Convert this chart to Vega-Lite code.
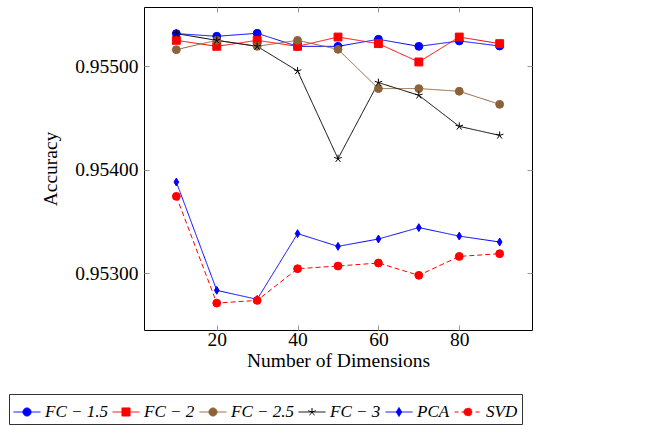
{
  "$schema": "https://vega.github.io/schema/vega-lite/v6.json",
  "width": 388,
  "height": 323,
  "autosize": {"type": "none"},
  "padding": {"left": 144, "top": 7, "right": 127, "bottom": 96},
  "background": "white",
  "config": {
    "font": "Liberation Serif",
    "view": {"stroke": "black", "strokeWidth": 1},
    "axis": {
      "labelFont": "Liberation Serif",
      "titleFont": "Liberation Serif",
      "labelFontSize": 19.5,
      "titleFontSize": 19.5,
      "labelColor": "black",
      "titleColor": "black",
      "titleFontWeight": "normal",
      "grid": false,
      "domain": false,
      "tickColor": "#999999",
      "tickSize": -5,
      "tickWidth": 1
    }
  },
  "data": {
    "values": [
      {"dim": 10, "series": "FC − 1.5", "acc": 0.955313},
      {"dim": 20, "series": "FC − 1.5", "acc": 0.955287},
      {"dim": 30, "series": "FC − 1.5", "acc": 0.955316},
      {"dim": 40, "series": "FC − 1.5", "acc": 0.955190},
      {"dim": 50, "series": "FC − 1.5", "acc": 0.955190},
      {"dim": 60, "series": "FC − 1.5", "acc": 0.955258},
      {"dim": 70, "series": "FC − 1.5", "acc": 0.955190},
      {"dim": 80, "series": "FC − 1.5", "acc": 0.955242},
      {"dim": 90, "series": "FC − 1.5", "acc": 0.955193},
      {"dim": 10, "series": "FC − 2", "acc": 0.955248},
      {"dim": 20, "series": "FC − 2", "acc": 0.955190},
      {"dim": 30, "series": "FC − 2", "acc": 0.955248},
      {"dim": 40, "series": "FC − 2", "acc": 0.955190},
      {"dim": 50, "series": "FC − 2", "acc": 0.955280},
      {"dim": 60, "series": "FC − 2", "acc": 0.955216},
      {"dim": 70, "series": "FC − 2", "acc": 0.955039},
      {"dim": 80, "series": "FC − 2", "acc": 0.955280},
      {"dim": 90, "series": "FC − 2", "acc": 0.955216},
      {"dim": 10, "series": "FC − 2.5", "acc": 0.955158},
      {"dim": 20, "series": "FC − 2.5", "acc": 0.955248},
      {"dim": 30, "series": "FC − 2.5", "acc": 0.955190},
      {"dim": 40, "series": "FC − 2.5", "acc": 0.955248},
      {"dim": 50, "series": "FC − 2.5", "acc": 0.955161},
      {"dim": 60, "series": "FC − 2.5", "acc": 0.954782},
      {"dim": 70, "series": "FC − 2.5", "acc": 0.954782},
      {"dim": 80, "series": "FC − 2.5", "acc": 0.954756},
      {"dim": 90, "series": "FC − 2.5", "acc": 0.954630},
      {"dim": 10, "series": "FC − 3", "acc": 0.955313},
      {"dim": 20, "series": "FC − 3", "acc": 0.955248},
      {"dim": 30, "series": "FC − 3", "acc": 0.955190},
      {"dim": 40, "series": "FC − 3", "acc": 0.954952},
      {"dim": 50, "series": "FC − 3", "acc": 0.954105},
      {"dim": 60, "series": "FC − 3", "acc": 0.954840},
      {"dim": 70, "series": "FC − 3", "acc": 0.954717},
      {"dim": 80, "series": "FC − 3", "acc": 0.954417},
      {"dim": 90, "series": "FC − 3", "acc": 0.954330},
      {"dim": 10, "series": "PCA", "acc": 0.953879},
      {"dim": 20, "series": "PCA", "acc": 0.952833},
      {"dim": 30, "series": "PCA", "acc": 0.952746},
      {"dim": 40, "series": "PCA", "acc": 0.953381},
      {"dim": 50, "series": "PCA", "acc": 0.953258},
      {"dim": 60, "series": "PCA", "acc": 0.953329},
      {"dim": 70, "series": "PCA", "acc": 0.953439},
      {"dim": 80, "series": "PCA", "acc": 0.953357},
      {"dim": 90, "series": "PCA", "acc": 0.953300},
      {"dim": 10, "series": "SVD", "acc": 0.953741},
      {"dim": 20, "series": "SVD", "acc": 0.952710},
      {"dim": 30, "series": "SVD", "acc": 0.952736},
      {"dim": 40, "series": "SVD", "acc": 0.953042},
      {"dim": 50, "series": "SVD", "acc": 0.953068},
      {"dim": 60, "series": "SVD", "acc": 0.953097},
      {"dim": 70, "series": "SVD", "acc": 0.952978},
      {"dim": 80, "series": "SVD", "acc": 0.953161},
      {"dim": 90, "series": "SVD", "acc": 0.953187}
    ]
  },
  "resolve": {
    "axis": {"x": "independent", "y": "independent"},
    "scale": {"color": "independent", "shape": "independent", "stroke": "independent", "strokeDash": "independent"}
  },
  "layer": [
    {
      "mark": {"type": "line", "strokeWidth": 1},
      "encoding": {
        "x": {
          "field": "dim", "type": "quantitative",
          "scale": {"domain": [2, 98], "nice": false, "zero": false},
          "axis": {"orient": "bottom", "values": [20, 40, 60, 80], "title": "Number of Dimensions", "labelPadding": 5, "titlePadding": 3}
        },
        "y": {
          "field": "acc", "type": "quantitative",
          "scale": {"domain": [0.95245, 0.95557], "nice": false, "zero": false},
          "axis": {"orient": "left", "values": [0.953, 0.954, 0.955], "format": ".5f", "title": "Accuracy", "labelPadding": 11, "titlePadding": 14}
        },
        "color": {
          "field": "series", "type": "nominal",
          "scale": {
            "domain": ["FC − 1.5", "FC − 2", "FC − 2.5", "FC − 3", "PCA", "SVD"],
            "range": ["#0000FF", "#FF0000", "#8C6239", "#000000", "#0000FF", "#FF0000"]
          },
          "legend": null
        },
        "strokeDash": {
          "field": "series", "type": "nominal",
          "scale": {
            "domain": ["FC − 1.5", "FC − 2", "FC − 2.5", "FC − 3", "PCA", "SVD"],
            "range": [[1, 0], [1, 0], [1, 0], [1, 0], [1, 0], [5, 3]]
          },
          "legend": null
        }
      }
    },
    {
      "mark": {"type": "point", "filled": true, "opacity": 1, "strokeWidth": 1},
      "encoding": {
        "x": {
          "field": "dim", "type": "quantitative",
          "axis": {"orient": "top", "values": [20, 40, 60, 80], "labels": false, "title": null}
        },
        "y": {
          "field": "acc", "type": "quantitative",
          "axis": {"orient": "right", "values": [0.953, 0.954, 0.955], "labels": false, "title": null}
        },
        "color": {
          "field": "series", "type": "nominal",
          "scale": {
            "domain": ["FC − 1.5", "FC − 2", "FC − 2.5", "FC − 3", "PCA", "SVD"],
            "range": ["#0000FF", "#FF0000", "#8C6239", "#000000", "#0000FF", "#FF0000"]
          },
          "legend": null
        },
        "stroke": {
          "field": "series", "type": "nominal",
          "scale": {
            "domain": ["FC − 1.5", "FC − 2", "FC − 2.5", "FC − 3", "PCA", "SVD"],
            "range": ["#0000FF", "#FF0000", "#8C6239", "#000000", "#0000FF", "#FF0000"]
          },
          "legend": null
        },
        "shape": {
          "field": "series", "type": "nominal",
          "scale": {
            "domain": ["FC − 1.5", "FC − 2", "FC − 2.5", "FC − 3", "PCA", "SVD"],
            "range": ["circle", "square", "circle", "M0,0L0,-1M0,0L0.95,-0.31M0,0L0.59,0.81M0,0L-0.59,0.81M0,0L-0.95,-0.31", "M-0.6,0L0,-1L0.6,0L0,1Z", "circle"]
          },
          "legend": null
        },
        "size": {"value": 62}
      }
    },
    {
      "mark": {"type": "point", "filled": true, "opacity": 0, "strokeWidth": 1},
      "encoding": {
        "x": {"field": "dim", "type": "quantitative", "axis": null},
        "y": {"field": "acc", "type": "quantitative", "axis": null},
        "color": {
          "field": "series", "type": "nominal",
          "scale": {
            "domain": ["FC − 1.5", "FC − 2", "FC − 2.5", "FC − 3", "PCA", "SVD"],
            "range": ["#0000FF", "#FF0000", "#8C6239", "#000000", "#0000FF", "#FF0000"]
          },
          "legend": {
            "orient": "none",
            "legendX": -135,
            "legendY": 387,
            "direction": "horizontal",
            "columns": 6,
            "title": null,
            "strokeColor": "#333333",
            "padding": 4,
            "columnPadding": 2,
            "symbolSize": 729,
            "symbolStrokeWidth": 1,
            "symbolOpacity": 1,
            "labelFont": "Liberation Serif",
            "labelFontStyle": "italic",
            "labelFontSize": 17,
            "labelColor": "black",
            "labelOffset": 4,
            "labelLimit": 200
          }
        },
        "stroke": {
          "field": "series", "type": "nominal",
          "scale": {
            "domain": ["FC − 1.5", "FC − 2", "FC − 2.5", "FC − 3", "PCA", "SVD"],
            "range": ["#0000FF", "#FF0000", "#8C6239", "#000000", "#0000FF", "#FF0000"]
          },
          "legend": {"orient": "none", "legendX": -135, "legendY": 387, "direction": "horizontal", "columns": 6, "title": null, "symbolSize": 729, "symbolOpacity": 1}
        },
        "strokeDash": {
          "field": "series", "type": "nominal",
          "scale": {
            "domain": ["FC − 1.5", "FC − 2", "FC − 2.5", "FC − 3", "PCA", "SVD"],
            "range": [[1, 0], [1, 0], [1, 0], [1, 0], [1, 0], [4, 3]]
          },
          "legend": {"orient": "none", "legendX": -135, "legendY": 387, "direction": "horizontal", "columns": 6, "title": null, "symbolSize": 729, "symbolOpacity": 1}
        },
        "shape": {
          "field": "series", "type": "nominal",
          "scale": {
            "domain": ["FC − 1.5", "FC − 2", "FC − 2.5", "FC − 3", "PCA", "SVD"],
            "range": [
              "M-1,0L1,0M-0.3,0A0.3,0.3 0 1,0 0.3,0A0.3,0.3 0 1,0 -0.3,0Z",
              "M-1,0L1,0M-0.3,-0.3L0.3,-0.3L0.3,0.3L-0.3,0.3Z",
              "M-1,0L1,0M-0.3,0A0.3,0.3 0 1,0 0.3,0A0.3,0.3 0 1,0 -0.3,0Z",
              "M-1,0L1,0M0,0L0,-0.3M0,0L0.285,-0.093M0,0L0.176,0.243M0,0L-0.176,0.243M0,0L-0.285,-0.093",
              "M-1,0L1,0M-0.2,0L0,-0.33L0.2,0L0,0.33Z",
              "M-1,0L1,0M-0.3,0A0.3,0.3 0 1,0 0.3,0A0.3,0.3 0 1,0 -0.3,0Z"
            ]
          },
          "legend": {"orient": "none", "legendX": -135, "legendY": 387, "direction": "horizontal", "columns": 6, "title": null, "symbolSize": 729, "symbolOpacity": 1}
        },
        "size": {"value": 62}
      }
    }
  ]
}
